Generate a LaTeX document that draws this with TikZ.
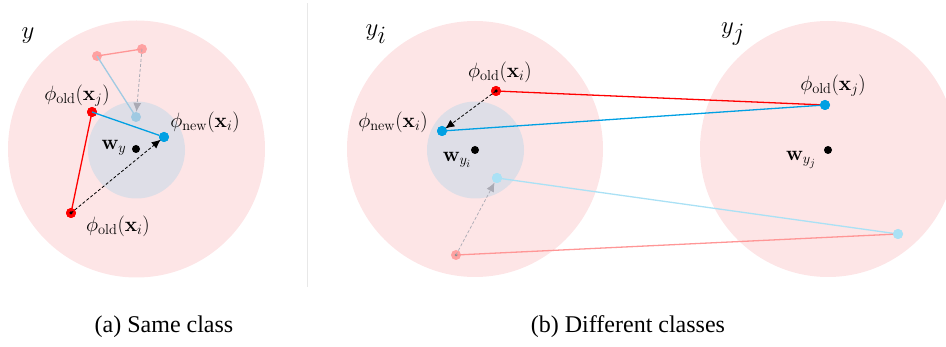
\documentclass[tikz,border=0pt]{standalone}
\usepackage[no-math]{fontspec}
\setmainfont{Liberation Serif}
\newfontfamily\capfont{Liberation Serif}
\usetikzlibrary{arrows.meta}
\definecolor{pinkbg}{RGB}{253,229,230}
\definecolor{grayc}{RGB}{222,222,231}
\definecolor{myred}{RGB}{255,0,0}
\definecolor{myblue}{RGB}{0,160,227}
\definecolor{lblueA}{RGB}{160,202,226}
\definecolor{lblueB}{RGB}{170,225,245}
\definecolor{fpink}{RGB}{255,150,150}
\definecolor{darrow}{RGB}{170,170,180}
\tikzset{
  pt/.style={circle,inner sep=0pt,minimum size=10pt},
  reddot/.style={pt,fill=myred},
  bluedot/.style={pt,fill=myblue},
  lbluedotA/.style={pt,fill=lblueA},
  lbluedotB/.style={pt,fill=lblueB},
  fpinkdot/.style={pt,fill=fpink},
  blackdot/.style={pt,fill=black,minimum size=8pt},
  lbl/.style={inner sep=0pt,font=\fontsize{22.5}{26}\selectfont},
  ylbl/.style={inner sep=0pt,font=\fontsize{42}{48}\selectfont},
  captext/.style={inner sep=0pt,font=\capfont\fontsize{24}{28}\selectfont},
  conn/.style={line width=1.3pt},
  darr/.style={densely dashed,line width=0.8pt,-{Latex[length=9pt,width=8pt]},shorten >=-1pt},
  startdot/.style={circle,inner sep=0pt,minimum size=3.5pt,fill=black},
}
\begin{document}
\begin{tikzpicture}[x=1pt,y=-1pt]
\useasboundingbox (0,0) rectangle (946,347);
\begin{scope}
\clip (0,0) rectangle (946,347);
% separator
\draw[line width=1.2pt,black!9] (307.7,3) -- (307.7,287);
% ---------------- panel (a)
\fill[pinkbg] (136.5,149) circle (128.5);
\fill[grayc] (136.5,150) circle (48.5);
\node[fpinkdot,opacity=0.85] (aP1) at (97,56) {};
\node[fpinkdot,opacity=0.85] (aP2) at (142,49) {};
\node[lbluedotA] (aLB) at (136,117) {};
\draw[conn,fpink] (aP1.center) -- (aP2.center);
\draw[conn,lblueA] (aP1.center) -- (aLB.center);
\draw[densely dashed,line width=0.8pt,darrow,-{Latex[length=9pt,width=8pt]}] (aP2.center) -- (aLB);
\node[reddot] (aOj) at (92,112) {};
\node[reddot] (aOi) at (71,213) {};
\node[bluedot] (aN) at (164,137) {};
\node[blackdot] (aW) at (136,149) {};
\draw[conn,myred] (aOj.center) -- (aOi.center);
\node[reddot] at (aOj) {};
\node[bluedot] at (aN) {};
\draw[conn,myblue] (aOj.center) -- (aN);
\node[reddot] at (aOi) {};
\node[startdot] (aS) at (aOi.center) {};
\draw[darr] (aS.center) -- (aN);
\node[ylbl] (ay) at (28,36) {$y$};
\node[lbl] (aLj) at (77,96) {$\phi_{\mathrm{old}}(\mathbf{x}_j)$};
\node[lbl] (aLn) at (205,122) {$\phi_{\mathrm{new}}(\mathbf{x}_i)$};
\node[lbl] (aLi) at (118,226) {$\phi_{\mathrm{old}}(\mathbf{x}_i)$};
\node[lbl] (aLw) at (114,148) {$\mathbf{w}_y$};
% ---------------- panel (b)
\fill[pinkbg] (475,149) circle (128);
\fill[grayc] (475.5,150) circle (48.5);
\fill[pinkbg] (828,149) circle (128);
\node[reddot] (bOi) at (496,91) {};
\node[bluedot] (bN) at (442,131) {};
\node[lbluedotB] (bLB) at (497,178) {};
\node[fpinkdot,opacity=0.85] (bP) at (456,255) {};
\node[blackdot] (bWi) at (475,150) {};
\node[bluedot] (bOj) at (825,105) {};
\node[blackdot] (bWj) at (828,150) {};
\node[lbluedotB] (bLB2) at (898,234) {};
\draw[conn,myred] (bOi.center) -- (bOj.center);
\draw[conn,myblue] (bN.center) -- (bOj.center);
\draw[conn,lblueB] (bLB.center) -- (bLB2.center);
\draw[conn,fpink] (bP.center) -- (bLB2.center);
\node[reddot] at (bOi) {};
\node[bluedot] at (bN) {};
\node[bluedot] at (bOj) {};
\node[lbluedotB] at (bLB) {};
\node[lbluedotB] at (bLB2) {};
\node[startdot] (bS) at (bOi.center) {};
\draw[darr] (bS.center) -- (bN);
\node[startdot,fill=black!45,minimum size=3pt] (bS2) at (bP.center) {};
\draw[densely dashed,line width=0.7pt,darrow,-{Latex[length=9pt,width=8pt]}] (bS2.center) -- (bLB);
\node[ylbl] (byi) at (376,34) {$y_i$};
\node[ylbl] (byj) at (733,34) {$y_j$};
\node[lbl] (bLo) at (500,72) {$\phi_{\mathrm{old}}(\mathbf{x}_i)$};
\node[lbl] (bLn) at (393,122) {$\phi_{\mathrm{new}}(\mathbf{x}_i)$};
\node[lbl] (bLw) at (457,160) {$\mathbf{w}_{y_i}$};
\node[lbl] (bLj) at (833,86) {$\phi_{\mathrm{old}}(\mathbf{x}_j)$};
\node[lbl] (bLwj) at (801,160) {$\mathbf{w}_{y_j}$};
% captions
\node[captext] (capA) at (164,327) {(a) Same class};
\node[captext] (capB) at (628,327) {(b) Different classes};
\end{scope}
\end{tikzpicture}
\end{document}
